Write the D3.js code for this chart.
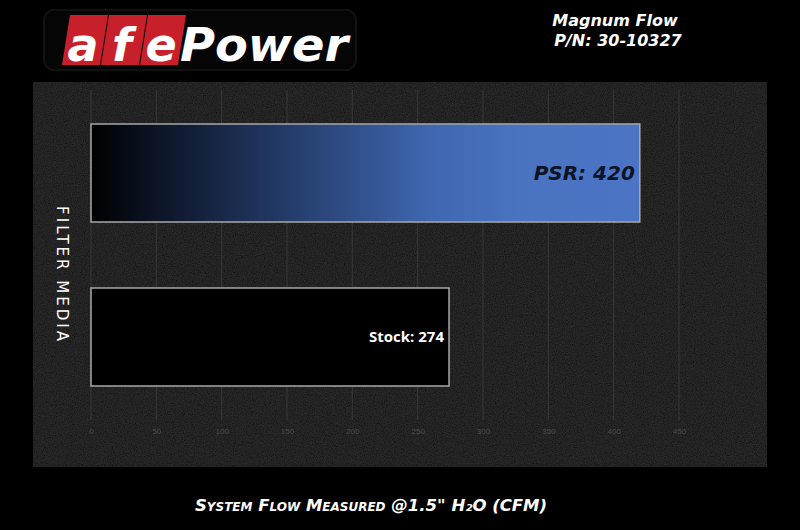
<!DOCTYPE html>
<html><head><meta charset="utf-8">
<script src="https://cdn.jsdelivr.net/npm/d3@7"></script>
<style>html,body{margin:0;padding:0;background:#000;}svg{display:block;}</style>
</head><body>
<svg id="c" width="800" height="530"></svg>
<script>
const categories = ["PSR", "Stock"];
const values = [420, 274];
const barLabels = ["PSR: 420", "Stock: 274"];
const ticks = [0, 50, 100, 150, 200, 250, 300, 350, 400, 450];

const svg = d3.select("#c");
const defs = svg.append("defs");
const noise = defs.append("filter").attr("id","noise").attr("x",0).attr("y",0).attr("width","100%").attr("height","100%");
noise.append("feTurbulence").attr("type","fractalNoise").attr("baseFrequency",0.9).attr("numOctaves",2).attr("seed",3).attr("result","t");
noise.append("feColorMatrix").attr("in","t").attr("type","matrix")
  .attr("values","0 0 0 0 0.25  0 0 0 0 0.25  0 0 0 0 0.25  0 0 0 0.1 0").attr("result","n");
noise.append("feComposite").attr("in","n").attr("in2","SourceGraphic").attr("operator","in").attr("result","nn");
noise.append("feMerge").call(m=>{m.append("feMergeNode").attr("in","SourceGraphic");m.append("feMergeNode").attr("in","nn");});

const grad = defs.append("linearGradient").attr("id","blue").attr("x1","0").attr("x2","1").attr("y1","0").attr("y2","0");
grad.append("stop").attr("offset","0").attr("stop-color","#000000");
grad.append("stop").attr("offset","0.12").attr("stop-color","#0c1426");
grad.append("stop").attr("offset","0.35").attr("stop-color","#233a67");
grad.append("stop").attr("offset","0.62").attr("stop-color","#4067b0");
grad.append("stop").attr("offset","0.8").attr("stop-color","#4a74c2");
grad.append("stop").attr("offset","1").attr("stop-color","#4b75c4");

svg.append("rect").attr("width",800).attr("height",530).attr("fill","#000");
// panel
svg.append("rect").attr("x",33).attr("y",82).attr("width",734).attr("height",385)
  .attr("fill","#141414").attr("filter","url(#noise)");

const x = d3.scaleLinear().domain([0,450]).range([91,679]);
const y = d3.scaleBand().domain(categories).range([124,386]).paddingInner(0.4024).paddingOuter(0);

// grid
svg.append("g").selectAll("line").data(ticks).join("line")
  .attr("x1",d=>x(d)).attr("x2",d=>x(d)).attr("y1",90).attr("y2",420)
  .attr("stroke","#383838").attr("stroke-width",1);

// axis labels
const ax = svg.append("g").attr("transform","translate(0,431)")
  .call(d3.axisBottom(x).tickValues(ticks).tickSize(0).tickPadding(0));
ax.select(".domain").remove();
ax.selectAll("text").attr("fill","#4a4a4a").attr("font-family","Arial, 'Liberation Sans', sans-serif").attr("font-size",8).attr("dy","0.35em");

// bars
svg.append("g").selectAll("rect").data(values).join("rect")
  .attr("x",x(0)).attr("y",(d,i)=>y(categories[i]))
  .attr("width",d=>x(d)-x(0)).attr("height",y.bandwidth())
  .attr("fill",(d,i)=>i===0?"url(#blue)":"#000")
  .attr("stroke","#a8a8a8").attr("stroke-width",1.5);

// bar labels
svg.append("g").selectAll("text").data(values).join("text")
  .attr("x",d=>x(d)-5)
  .attr("y",(d,i)=>y(categories[i])+y.bandwidth()/2)
  .attr("dy","0.35em").attr("text-anchor","end")
  .attr("font-family",(d,i)=>i===0?"'DejaVu Sans', sans-serif":"'Open Sans', sans-serif")
  .attr("font-style",(d,i)=>i===0?"italic":"normal")
  .attr("font-weight","bold")
  .attr("font-size",(d,i)=>i===0?20:15)
  .attr("fill",(d,i)=>i===0?"#0b1428":"#ffffff")
  .text((d,i)=>barLabels[i]);

// y label
svg.append("text").attr("transform","translate(57,275) rotate(90)")
  .attr("text-anchor","middle").attr("fill","#fff")
  .attr("font-family","'DejaVu Sans', sans-serif").attr("font-size",15)
  .attr("letter-spacing","3px").text("FILTER MEDIA");

// title
svg.append("text").attr("x",615).attr("y",26).attr("text-anchor","middle")
  .attr("fill","#fff").attr("font-family","'DejaVu Sans', sans-serif").attr("font-weight","bold")
  .attr("font-style","italic").attr("font-size",16).text("Magnum Flow");
svg.append("text").attr("x",618).attr("y",46).attr("text-anchor","middle")
  .attr("fill","#fff").attr("font-family","'DejaVu Sans', sans-serif").attr("font-weight","bold")
  .attr("font-style","italic").attr("font-size",16).text("P/N: 30-10327");

// x label
svg.append("text").attr("x",371).attr("y",511).attr("text-anchor","middle")
  .attr("fill","#fff").attr("font-family","'DejaVu Sans', sans-serif").attr("font-weight","bold")
  .attr("font-style","italic").attr("font-size",16.5).attr("font-variant","small-caps")
  .text("System Flow Measured @1.5\" H\u2082O (CFM)");

// logo
const logo = svg.append("g");
logo.append("rect").attr("x",44).attr("y",10).attr("width",312).attr("height",60).attr("rx",10)
  .attr("fill","#050505").attr("stroke","#111111").attr("stroke-width",2);
const boxes = ["a","f","e"];
boxes.forEach((ch,i)=>{
  const bx = 62 + i*39;
  logo.append("path").attr("d",`M${bx+8},15 L${bx+46},15 L${bx+38},65 L${bx},65 Z`).attr("fill","#c8202a");
  logo.append("text").attr("x",bx+21).attr("y",61).attr("text-anchor","middle")
    .attr("fill","#fff").attr("font-family","'DejaVu Sans', sans-serif").attr("font-weight","bold")
    .attr("font-style","italic").attr("font-size",46).text(ch);
});
logo.append("text").attr("x",180).attr("y",61).attr("fill","#fff")
  .attr("font-family","'DejaVu Sans', sans-serif").attr("font-weight","bold").attr("font-style","italic")
  .attr("font-size",46).attr("textLength",168).attr("lengthAdjust","spacingAndGlyphs").text("Power");
</script>
</body></html>
